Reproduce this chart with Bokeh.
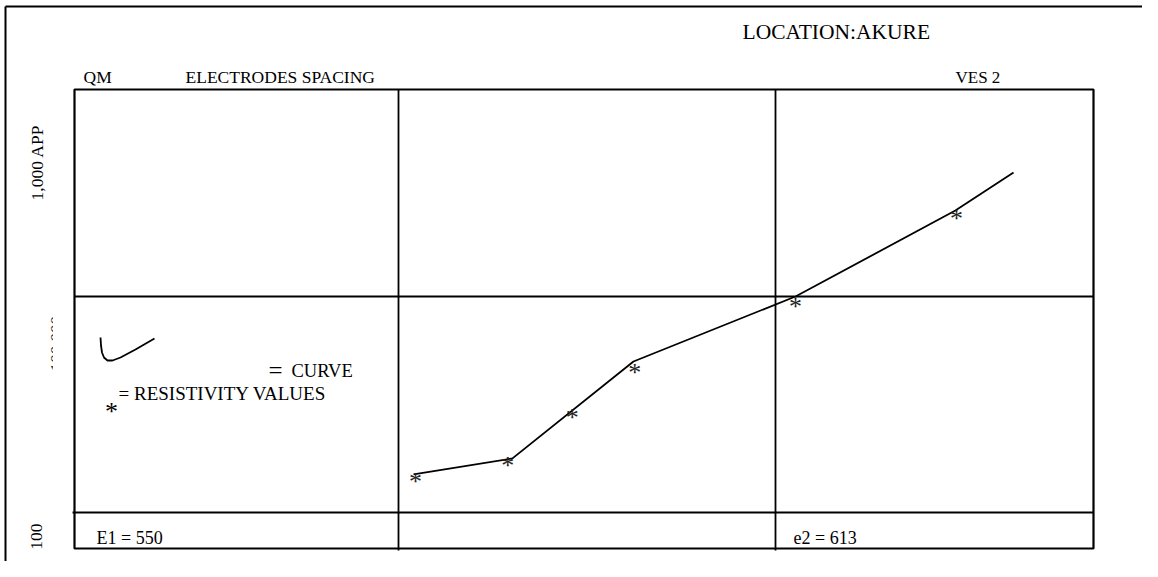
import math
from bokeh.plotting import figure
from bokeh.models import Range1d
from bokeh.core.properties import value
from bokeh.embed import file_html
from bokeh.resources import INLINE

# ---- data ----
# electrode spacing (AB/2) and apparent resistivity of the measured points
spacing = [11.1, 19.5, 28.9, 42.3, 113, 302]
resistivity = [146, 174, 290, 471, 951, 2430]
# interpreted curve
curve_spacing = [10.96, 20.06, 42.0, 113, 300, 428]
curve_resistivity = [150, 178, 500, 1000, 2500, 3750]
# decade grid lines
grid_x = [10, 100]
grid_y = [100, 1000]

W, H = 1142, 561


# canvas pixel -> data coordinate helpers (used only to place decorations)
def X(px):
    return 10 ** (1 + (px - 398) / 377)


def Y(py):
    return 10 ** (2 + (512 - py) / 216)


p = figure(width=W, height=H, x_axis_type="log", y_axis_type="log",
           x_range=Range1d(X(0), X(W)), y_range=Range1d(Y(H), Y(0)),
           output_backend="svg", toolbar_location=None, title=None,
           min_border=0, min_border_left=0, min_border_right=0,
           min_border_top=0, min_border_bottom=0)
p.xaxis.visible = False
p.yaxis.visible = False
p.grid.visible = False
p.outline_line_color = None
p.background_fill_color = "white"
p.border_fill_color = "white"

FONT = value("Liberation Serif")

# outer page frame (left and top edges)
p.line([X(5), X(5)], [Y(6), Y(H + 5)], line_color="black", line_width=2)
p.line([X(5), X(W + 5)], [Y(6), Y(6)], line_color="black", line_width=2)

# clipped "100,000" label on the left (only the tops of the glyphs show)
p.text(x=[X(55.5)], y=[Y(343)], text=["100,000"], angle=math.pi / 2,
       text_font=FONT, text_font_size="17px", text_color="#333333",
       text_align="center", text_baseline="alphabetic")
p.quad(left=[X(52.5)], right=[X(73)], top=[Y(300)], bottom=[Y(385)],
       fill_color="white", line_color=None)

# chart box and grid
L, R, T, B = X(74), X(1093), Y(89), Y(548)
for gx in grid_x:
    p.line([gx, gx], [T, Y(550)], line_color="black", line_width=1.8)
p.line([L, R], [grid_y[1], grid_y[1]], line_color="black", line_width=1.8)
p.line([X(72), R], [grid_y[0], grid_y[0]], line_color="black", line_width=1.8)
p.quad(left=[L], right=[R], top=[T], bottom=[B], fill_color=None,
       line_color="black", line_width=2.2)

# curve and points
p.line(curve_spacing, curve_resistivity, line_color="black", line_width=1.8)
p.text(x=spacing, y=resistivity, text=["*"] * len(spacing), text_font=FONT,
       text_font_size="26px", text_color="#222222", text_align="center",
       text_baseline="middle", y_offset=5)

# legend
lx = [100, 100.5, 101.5, 103.5, 107, 112, 120, 135, 154]
ly = [337, 345, 352, 357, 360, 360, 357, 349, 338]
p.line([X(v) for v in lx], [Y(v) for v in ly], line_color="black", line_width=1.8)
p.text(x=[X(268)], y=[Y(370)], text=["="], text_font=FONT, text_font_size="25px",
       text_color="black", text_baseline="alphabetic")
p.text(x=[X(111)], y=[Y(406)], text=["*"], text_font=FONT, text_font_size="26px",
       text_color="black", text_align="center", text_baseline="middle", y_offset=5)


def label(px, py, s, size="17px", angle=0.0, align="left", baseline="alphabetic"):
    p.text(x=[X(px)], y=[Y(py)], text=[s], angle=angle, text_font=FONT,
           text_font_size=size, text_color="black", text_align=align,
           text_baseline=baseline)


label(118, 393, "= RESISTIVITY VALUES", size="19px")
label(291, 370, "CURVE", size="18.5px")
label(742, 31, "LOCATION:AKURE", size="21.5px")
label(83, 76, "QM", size="17.5px")
label(185, 76, "ELECTRODES SPACING", size="17.5px")
label(955, 77, "VES 2", size="17px")
label(96, 537, "E1 = 550", size="18px")
label(793, 537, "e2 = 613", size="18px")
label(36, 162, "1,000 APP", size="17.5px", angle=math.pi / 2, align="center", baseline="middle")
label(36, 536, "100", size="17.5px", angle=math.pi / 2, align="center", baseline="middle")

open("out.html", "w").write(file_html(p, INLINE))
